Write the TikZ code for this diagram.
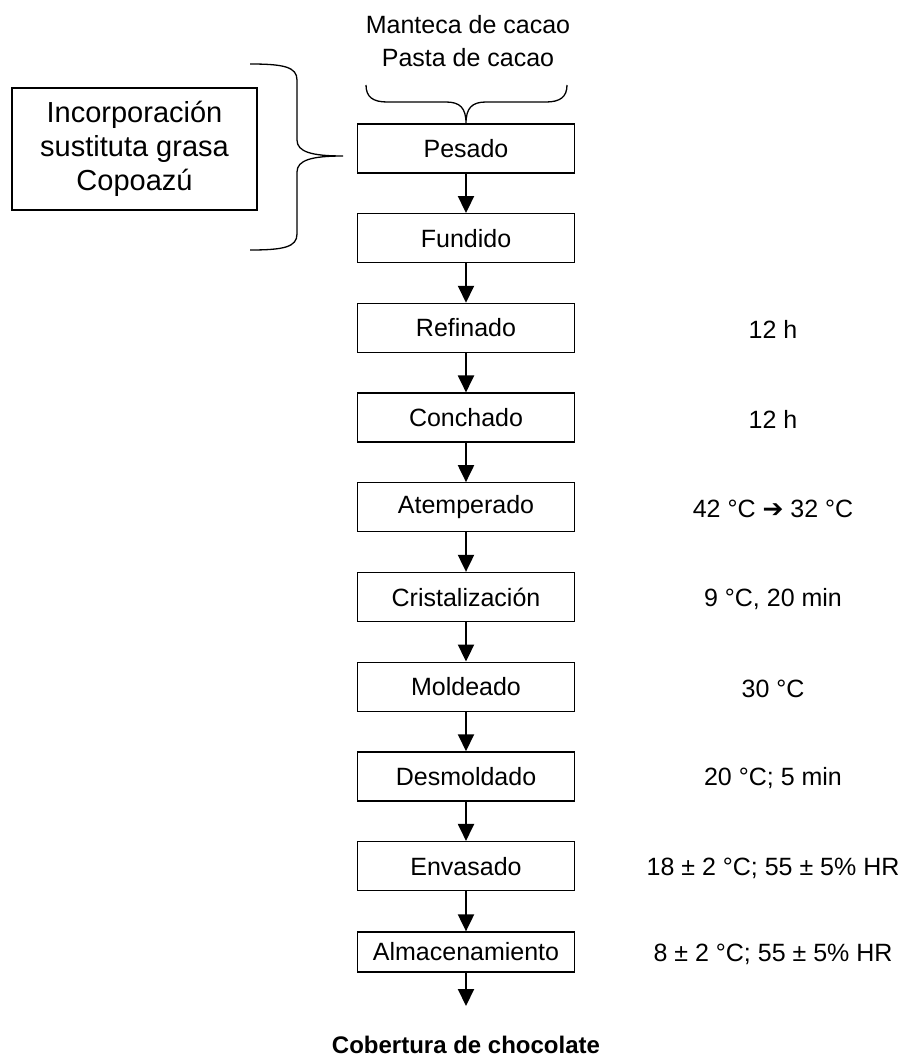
\documentclass[tikz,border=0pt]{standalone}
\usepackage{fontspec}
\setmainfont{Liberation Sans}
\newfontfamily\symbfont{DejaVu Sans}
\usetikzlibrary{arrows.meta,positioning}

\tikzset{
  stepbox/.style={draw, line width=1.3pt, minimum width=217pt, minimum height=49pt,
    inner sep=0pt, font=\fontsize{25}{30}\selectfont},
  condtext/.style={font=\fontsize{25}{30}\selectfont},
  flow/.style={-{Triangle[width=16pt,length=17pt]}, line width=2pt},
  bracket/.style={line width=1.3pt},
}

\begin{document}
\begin{tikzpicture}[x=1pt, y=-1pt]
\useasboundingbox (0,0) rectangle (908,1059);
\foreach \name/\txt [count=\i from 0] in {pes/Pesado, fun/Fundido, ref/Refinado,
	con/Conchado, ate/Atemperado, cri/Cristalización, mol/Moldeado,
	des/Desmoldado, env/Envasado}
\node[stepbox] (\name) at (466, 148.5+89.7*\i) {\txt};
\node[stepbox, minimum height=40pt] (alm) at (466, 952) {Almacenamiento};
\foreach \a/\b in {pes/fun, fun/ref, ref/con, con/ate, ate/cri, cri/mol,
	mol/des, des/env, env/alm}
\draw[flow] (\a) -- (\b);
\coordinate (fin) at (466, 1006);
\draw[flow] (alm) -- (fin);
\node[font=\bfseries\fontsize{24}{29}\selectfont] (cob) at (466, 1045) {Cobertura de chocolate};
\foreach \name/\cond in {ref/12 h, con/12 h, ate/{42 °C {\symbfont\bfseries ➔} 32 °C},
	cri/{9 °C, 20 min}, mol/30 °C, des/20 °C; 5 min,
	env/18 ± 2 °C; 55 ± 5\% HR, alm/8 ± 2 °C; 55 ± 5\% HR}
\node[condtext] (c-\name) at ([xshift=307pt, yshift=-2pt]\name) {\cond};
\node[font=\fontsize{25}{33}\selectfont, align=center] (src) at (468, 41.5)
	{Manteca de cacao\\Pasta de cacao};
\draw[bracket] (366,85) .. controls (366,97) and (373,102) .. (387,102) -- (446,102)
	.. controls (460,102) and (466,108) .. (pes.north)
	.. controls (466,108) and (472,102) .. (486,102) -- (546,102)
	.. controls (560,102) and (567,97) .. (567,85);
\node[draw, line width=1.3pt, minimum width=245pt, minimum height=122pt, align=center,
	font=\fontsize{29}{34}\selectfont] (inc) at (134.5, 149)
	{Incorporación\\sustituta grasa\\Copoazú};
\coordinate (tip) at (343, 156);
\draw[bracket] (250,64) .. controls (284,64) and (297,67) .. (297,80) -- (297,140)
	.. controls (297,152) and (312,156) .. (tip)
	.. controls (312,156) and (297,160) .. (297,172) -- (297,234)
	.. controls (297,247) and (284,250) .. (250,250);
\end{tikzpicture}
\end{document}
